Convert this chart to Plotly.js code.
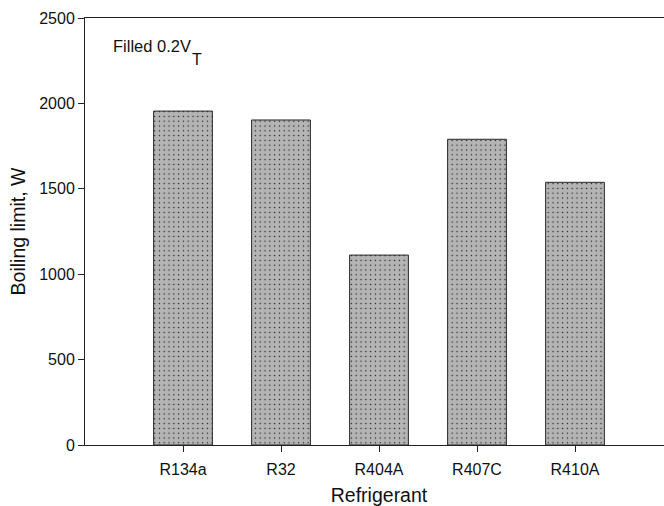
<!DOCTYPE html>
<html>
<head>
<meta charset="utf-8">
<script src="https://cdn.plot.ly/plotly-3.0.1.min.js"></script>
<style>
html, body { margin: 0; padding: 0; overflow: hidden; background: #fff; }
#chart { width: 673px; height: 506px; }
</style>
</head>
<body>
<div id="chart"></div>
<script>
const categories = ["R134a", "R32", "R404A", "R407C", "R410A"];
const boilingLimit = [1955, 1903, 1112, 1790, 1538];
const yTicks = [0, 500, 1000, 1500, 2000, 2500];

const font = "Arial, 'Liberation Sans', sans-serif";

const trace = {
  type: "bar",
  x: categories.map((c, i) => i),
  y: boilingLimit,
  width: 0.6,
  marker: {
    color: "#b4b4b4",
    line: { color: "#2a2a2a", width: 1 },
    pattern: { shape: ".", fgcolor: "#1e1e1e", bgcolor: "#b4b4b4", size: 4.8, solidity: 0.07, fillmode: "replace" }
  },
  hoverinfo: "x+y"
};

const layout = {
  width: 673,
  height: 506,
  margin: { l: 85, r: 0, t: 18, b: 61 },
  paper_bgcolor: "#fff",
  plot_bgcolor: "#fff",
  showlegend: false,
  font: { family: font, size: 16, color: "#111" },
  xaxis: {
    range: [-1, 5],
    tickmode: "array",
    tickvals: categories.map((c, i) => i),
    ticktext: categories,
    ticks: "outside",
    ticklen: 6,
    tickcolor: "#222",
    ticklabelstandoff: 4,
    showline: true,
    linecolor: "#222",
    linewidth: 1,
    mirror: true,
    showgrid: false,
    zeroline: false,
    tickfont: { family: font, size: 16, color: "#111" },
    title: { text: "Refrigerant", font: { family: font, size: 19.5, color: "#111" }, standoff: 12 }
  },
  yaxis: {
    range: [0, 2500],
    tickmode: "array",
    tickvals: yTicks,
    ticktext: yTicks.map(String),
    ticks: "outside",
    ticklen: 6,
    tickcolor: "#222",
    showline: true,
    linecolor: "#222",
    linewidth: 1,
    mirror: false,
    showgrid: false,
    zeroline: false,
    tickfont: { family: font, size: 16, color: "#111" },
    title: { text: "Boiling limit, W", font: { family: font, size: 19.5, color: "#111" }, standoff: 8 }
  },
  annotations: [{
    xref: "paper", yref: "paper",
    x: 0.0442, y: 0.96,
    xanchor: "left", yanchor: "top",
    text: "Filled 0.2V",
    showarrow: false,
    font: { family: font, size: 16.5, color: "#111" }
  }, {
    xref: "paper", yref: "paper",
    x: 0.179, y: 0.9285,
    xanchor: "left", yanchor: "top",
    text: "T",
    showarrow: false,
    font: { family: font, size: 16, color: "#111" }
  }]
};

Plotly.newPlot("chart", [trace], layout, { displayModeBar: false, staticPlot: true });
</script>
</body>
</html>
